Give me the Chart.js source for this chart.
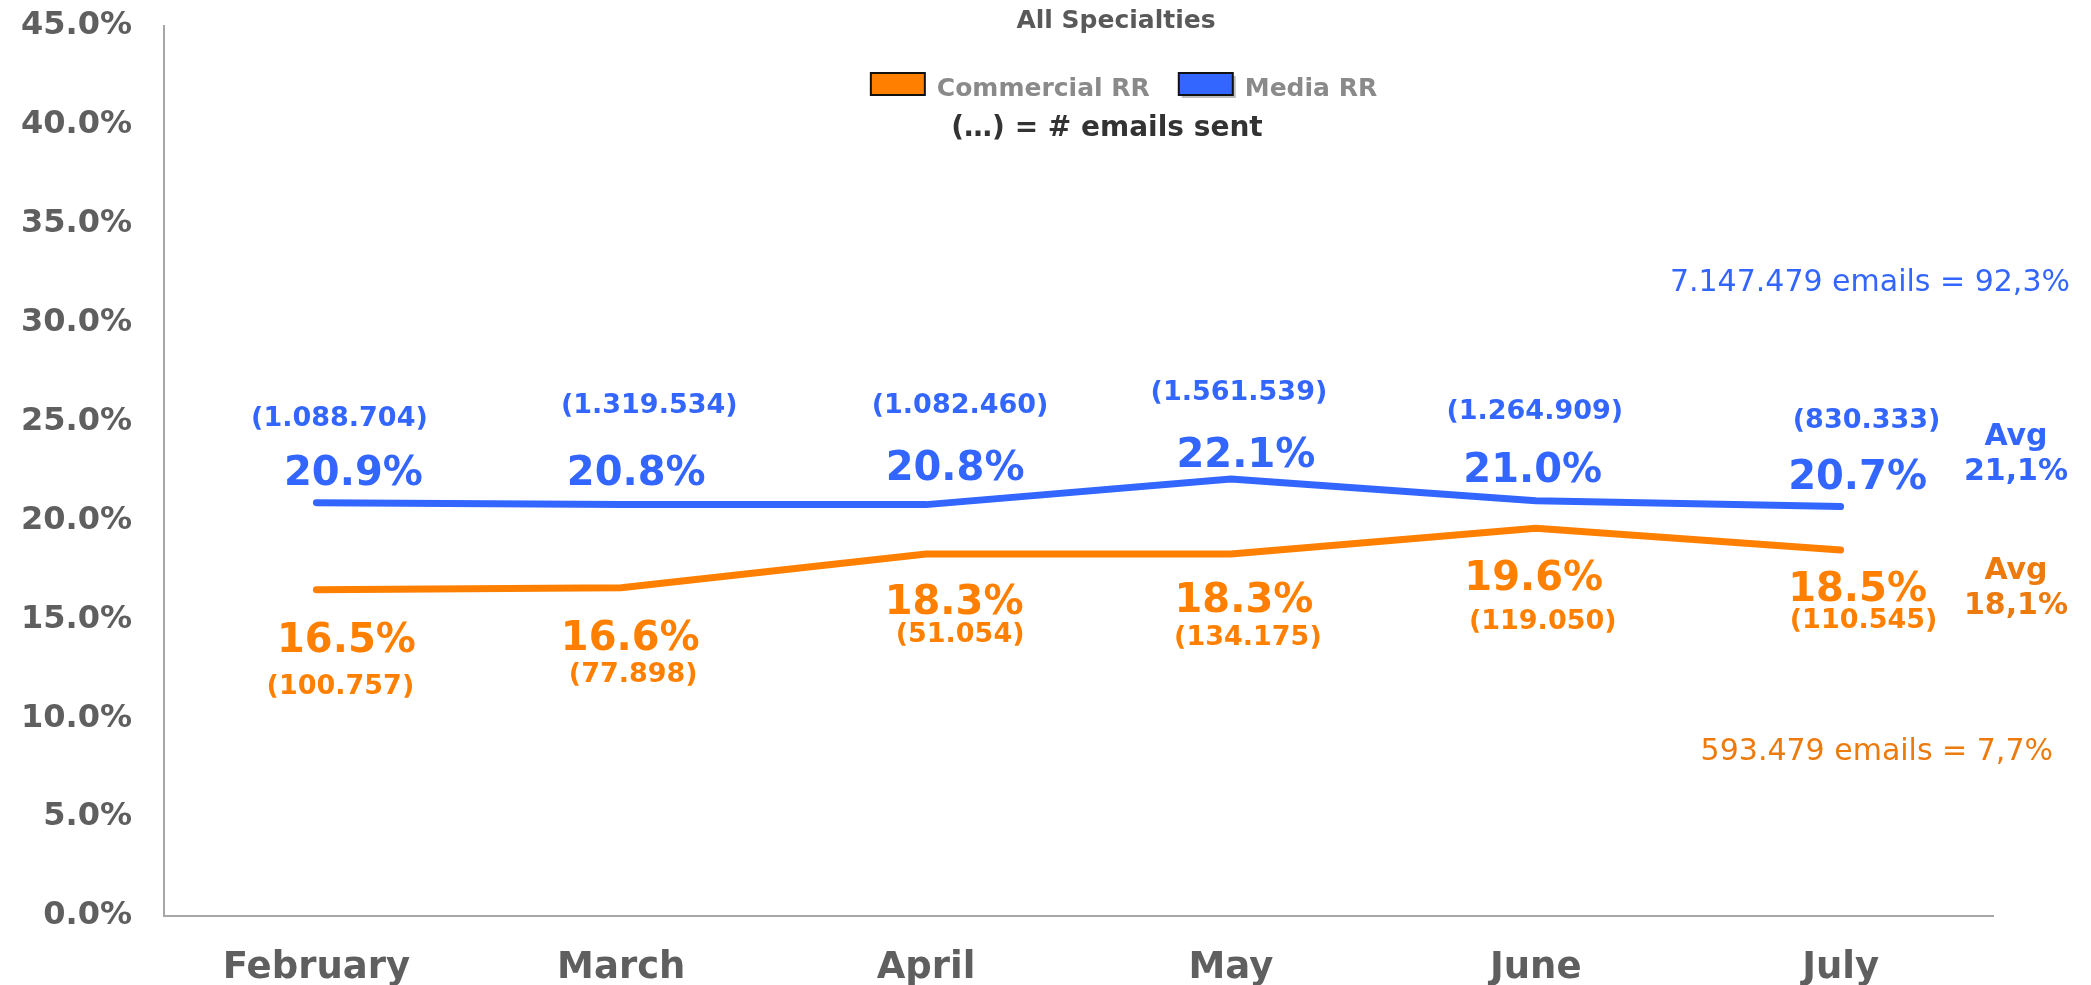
<!DOCTYPE html>
<html>
<head>
<meta charset="utf-8">
<script src="https://cdn.jsdelivr.net/npm/chart.js@4.4.0/dist/chart.umd.min.js"></script>
<style>
  html, body { margin: 0; padding: 0; background: #fff; }
</style>
</head>
<body>
<canvas id="rr" width="2091" height="985"></canvas>
<script>
document.addEventListener('DOMContentLoaded', function () {

	'use strict';

	// --- data ---
	const months = ['February', 'March', 'April', 'May', 'June', 'July'];
	const commercialRR = [16.5, 16.6, 18.3, 18.3, 19.6, 18.5];
	const mediaRR = [20.9, 20.8, 20.8, 22.1, 21.0, 20.7];
	const commercialSent = ['100.757', '77.898', '51.054', '134.175', '119.050', '110.545'];
	const mediaSent = ['1.088.704', '1.319.534', '1.082.460', '1.561.539', '1.264.909', '830.333'];
	const commercialAvg = 18.1;
	const mediaAvg = 21.1;
	const mediaTotal = '7.147.479 emails = 92,3%';
	const commercialTotal = '593.479 emails = 7,7%';
	const yMax = 45;
	const yStep = 5;

	// label nudges (px, relative to each point) - hand placed in the original
	const mediaValOff = [[37, -18], [15, -20], [29, -25], [15, -12], [-3, -19], [17, -18]];
	const mediaCntOff = [[23, -77], [28, -92], [34, -92], [8, -79], [-1, -82], [26, -79]];
	const commValOff = [[30, 62], [9, 62], [28, 60], [13, 58], [-2, 62], [17, 51]];
	const commCntOff = [[24, 104], [12, 94], [34, 88], [17, 91], [7, 101], [23, 78]];

	const BLUE = '#3366ff';
	const ORANGE = '#ff8000';
	const ORANGE_DK = '#ec7a0c';
	const GREY = '#5f5f5f';
	const FONT = '"DejaVu Sans", Verdana, sans-serif';

	const comma = v => v.toFixed(1).replace('.', ',') + '%';

	const overlay = {
		id: 'overlay',
		afterDatasetsDraw(chart) {
			const ctx = chart.ctx;
			const y = chart.scales.y;
			const area = chart.chartArea;
			const pc = chart.getDatasetMeta(0).data;
			const pm = chart.getDatasetMeta(1).data;
			ctx.save();
			ctx.textAlign = 'center';
			ctx.textBaseline = 'alphabetic';

			pm.forEach(function (p, i) {
				ctx.fillStyle = BLUE;
				ctx.font = 'bold 40px ' + FONT;
				ctx.fillText(mediaRR[i].toFixed(1) + '%', p.x + mediaValOff[i][0], p.y + mediaValOff[i][1]);
				ctx.font = 'bold 27px ' + FONT;
				ctx.fillText('(' + mediaSent[i] + ')', p.x + mediaCntOff[i][0], p.y + mediaCntOff[i][1]);
			});
			pc.forEach(function (p, i) {
				ctx.fillStyle = ORANGE;
				ctx.font = 'bold 40px ' + FONT;
				ctx.fillText(commercialRR[i].toFixed(1) + '%', p.x + commValOff[i][0], p.y + commValOff[i][1]);
				ctx.font = 'bold 27px ' + FONT;
				ctx.fillText('(' + commercialSent[i] + ')', p.x + commCntOff[i][0], p.y + commCntOff[i][1]);
			});

			// averages on the right
			const ax = area.right + 23;
			ctx.font = 'bold 30px ' + FONT;
			ctx.fillStyle = BLUE;
			ctx.fillText('Avg', ax, y.getPixelForValue(mediaAvg) - 54);
			ctx.fillText(comma(mediaAvg), ax, y.getPixelForValue(mediaAvg) - 19);
			ctx.fillStyle = ORANGE_DK;
			ctx.fillText('Avg', ax, y.getPixelForValue(commercialAvg) + 21);
			ctx.fillText(comma(commercialAvg), ax, y.getPixelForValue(commercialAvg) + 56);

			// totals
			ctx.font = '30px ' + FONT;
			ctx.textAlign = 'right';
			ctx.fillStyle = BLUE;
			ctx.fillText(mediaTotal, area.right + 77, y.getPixelForValue(31.6));
			ctx.fillStyle = ORANGE_DK;
			ctx.fillText(commercialTotal, area.right + 60, y.getPixelForValue(7.9));

			// title, legend, note
			ctx.textAlign = 'center';
			ctx.fillStyle = '#595959';
			ctx.font = 'bold 25px ' + FONT;
			ctx.fillText('All Specialties', 1116, 28);

			ctx.font = 'bold 25px ' + FONT;
			const items = [['Commercial RR', ORANGE], ['Media RR', BLUE]];
			const bw = 54, bh = 22, gap = 12, pad = 29;
			let total = 0;
			items.forEach(function (it) { total += bw + gap + ctx.measureText(it[0]).width; });
			total += pad * (items.length - 1);
			let lx = 1124 - total / 2;
			ctx.textAlign = 'left';
			items.forEach(function (it, k) {
				if (k === 1) {
					ctx.fillStyle = 'rgba(0,0,0,0.25)';
					ctx.fillRect(lx + 3, 76, bw, bh);
				}
				ctx.fillStyle = it[1];
				ctx.fillRect(lx, 73, bw, bh);
				ctx.lineWidth = 2;
				ctx.strokeStyle = '#111';
				ctx.strokeRect(lx, 73, bw, bh);
				ctx.fillStyle = '#8a8a8a';
				ctx.fillText(it[0], lx + bw + gap, 96);
				lx += bw + gap + ctx.measureText(it[0]).width + pad;
			});

			ctx.textAlign = 'center';
			ctx.fillStyle = '#333333';
			ctx.font = 'bold 28px ' + FONT;
			ctx.fillText('(\u2026) = # emails sent', 1107, 136);
			ctx.restore();
		}
	};

	new Chart(document.getElementById('rr'), {
		type: 'line',
		data: {
			labels: months,
			datasets: [{
				label: 'Commercial RR',
				data: commercialRR,
				borderColor: ORANGE,
				backgroundColor: ORANGE,
				borderWidth: 7,
				borderCapStyle: 'round',
				pointRadius: 0,
				tension: 0
			}, {
				label: 'Media RR',
				data: mediaRR,
				borderColor: BLUE,
				backgroundColor: BLUE,
				borderWidth: 7,
				borderCapStyle: 'round',
				pointRadius: 0,
				tension: 0
			}]
		},
		options: {
			responsive: false,
			animation: false,
			devicePixelRatio: 1,
			layout: { padding: { top: 26, right: 98, left: 0, bottom: 0 } },
			plugins: {
				legend: { display: false },
				title: { display: false },
				tooltip: { enabled: false }
			},
			scales: {
				x: {
					offset: true,
					grid: { display: false, drawTicks: false },
					border: { display: true, color: '#a6a6a6', width: 2 },
					ticks: {
						color: GREY,
						padding: 30,
						font: { family: FONT, size: 37, weight: 'bold' }
					},
					afterFit: function (s) { s.height = 69; s.paddingLeft = 0; s.paddingRight = 0; }
				},
				y: {
					min: 0,
					max: yMax,
					grid: { display: false, drawTicks: false },
					border: { display: true, color: '#a6a6a6', width: 2 },
					ticks: {
						stepSize: yStep,
						color: GREY,
						padding: 32,
						font: { family: FONT, size: 32, weight: 'bold' },
						callback: v => v.toFixed(1) + '%'
					},
					afterFit: function (s) { s.width = 164; s.paddingTop = 0; s.paddingBottom = 0; }
				}
			}
		},
		plugins: [overlay]
	});
}); // DOMContentLoaded
</script>
</body>
</html>
